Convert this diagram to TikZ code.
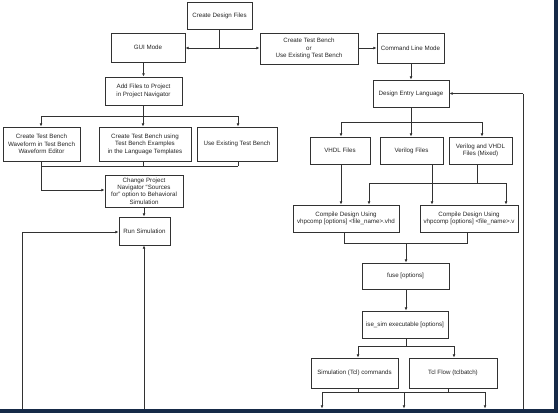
\documentclass[tikz,border=0pt]{standalone}
\usepackage{fontspec}
\setmainfont{Liberation Sans}
\usetikzlibrary{arrows.meta}
\definecolor{frame}{RGB}{22,42,72}
\definecolor{ln}{RGB}{50,50,50}
\begin{document}
\begin{tikzpicture}[x=1pt,y=-1pt,
  bx/.style={draw=ln,line width=0.8pt,rectangle,inner sep=0pt,align=center,
    font=\fontsize{6.2}{7.4}\selectfont,text=black!85},
  con/.style={draw=ln,line width=0.8pt},
  arr/.style={con,-{Latex[length=3.2pt,width=2.8pt]}}]
\useasboundingbox (0,0) rectangle (558,413);
\fill[white] (0,0) rectangle (558,413);
\fill[frame] (554,0) rectangle (558,413);
\fill[frame] (0,409) rectangle (558,413);

\node[bx,minimum width=65pt,minimum height=27pt] (cdf) at (219.5,15.5) {Create Design Files};
\node[bx,minimum width=74pt,minimum height=29pt] (gui) at (148,47.5) {GUI Mode};
\node[bx,minimum width=98pt,minimum height=31pt] (ctb) at (309,48.5) {Create Test Bench\\or\\Use Existing Test Bench};
\node[bx,minimum width=67pt,minimum height=30pt] (clm) at (410.5,48) {Command Line Mode};
\node[bx,minimum width=77pt,minimum height=28pt] (add) at (143.5,91) {Add Files to Project\\in Project Navigator};
\node[bx,minimum width=77pt,minimum height=34pt] (wave) at (41.5,144) {Create Test Bench\\Waveform in Test Bench\\Waveform Editor};
\node[bx,minimum width=92pt,minimum height=34pt] (tmpl) at (145,144) {Create Test Bench using\\Test Bench Examples\\in the Language Templates};
\node[bx,minimum width=80pt,minimum height=34pt] (use) at (237,144) {Use Existing Test Bench};
\node[bx,minimum width=78pt,minimum height=32pt] (chg) at (144,191) {Change Project\\Navigator “Sources\\for” option to Behavioral\\Simulation};
\node[bx,minimum width=51pt,minimum height=28pt] (run) at (144.5,231) {Run Simulation};
\node[bx,minimum width=76pt,minimum height=27pt] (del) at (411,93.5) {Design Entry Language};
\node[bx,minimum width=60pt,minimum height=27pt] (vhdl) at (340,150.5) {VHDL Files};
\node[bx,minimum width=63pt,minimum height=27pt] (ver) at (411.5,150.5) {Verilog Files};
\node[bx,minimum width=63pt,minimum height=27pt] (mix) at (480.5,150.5) {Verilog and VHDL\\Files (Mixed)};
\node[bx,minimum width=106pt,minimum height=27pt] (cmpa) at (346,218.5) {Compile Design Using\\vhpcomp [options] <file\_name>.vhd};
\node[bx,minimum width=98pt,minimum height=27pt] (cmpb) at (469,218.5) {Compile Design Using\\vhpcomp [options] <file\_name>.v};
\node[bx,minimum width=87pt,minimum height=26pt] (fuse) at (405.5,276) {fuse [options]};
\node[bx,minimum width=86pt,minimum height=27pt] (ise) at (405,324.5) {ise\_sim executable [options]};
\node[bx,minimum width=87pt,minimum height=30pt] (sim) at (354.5,373) {Simulation (Tcl) commands};
\node[bx,minimum width=88pt,minimum height=30pt] (tcl) at (453,373) {Tcl Flow (tclbatch)};

% top split
\coordinate (j1) at (219,48);
\draw[con] (cdf.south -| j1) -- (j1);
\draw[arr] (j1) -- (j1 -| gui.east);
\draw[arr] (j1) -- (j1 -| ctb.west);
\draw[arr] (ctb.east |- clm.west) -- (clm.west);
\draw[arr] (gui.south -| add.north) -- (add.north);

% add files branch
\coordinate (j2) at (143,116);
\coordinate (j2a) at (41,116);
\coordinate (j2b) at (238,116);
\draw[con] (add.south -| j2) -- (j2);
\draw[con] (j2a) -- (j2b);
\draw[arr] (j2a) -- (wave.north -| j2a);
\draw[arr] (j2) -- (tmpl.north -| j2);
\draw[arr] (j2b) -- (use.north -| j2b);

% join to change project
\coordinate (j3a) at (41,166);
\coordinate (j3b) at (238,166);
\coordinate (j3c) at (143,166);
\coordinate (j3d) at (41,190);
\draw[con] (wave.south -| j3a) -- (j3d);
\draw[arr] (j3d) -- (j3d -| chg.west);
\draw[con] (j3a) -- (j3b);
\draw[con] (tmpl.south -| j3c) -- (j3c);
\draw[con] (use.south -| j3b) -- (j3b);
\draw[arr] (chg.south) -- (run.north -| chg.south);

% loops into run simulation
\coordinate (la) at (22,409);
\coordinate (lb) at (22,232);
\draw[con] (la) -- (lb);
\draw[arr] (lb) -- (lb -| run.west);
\coordinate (lc) at (144,409);
\draw[arr] (lc) -- (lc |- run.south);

% command line side
\draw[arr] (clm.south -| del.north) -- (del.north);
\coordinate (fb) at (523,409);
\coordinate (fbt) at (523,93.5);
\draw[con] (fb) -- (fbt);
\draw[arr] (fbt) -- (del.east);

\coordinate (j4) at (411,122);
\coordinate (j4a) at (341,122);
\coordinate (j4b) at (482,122);
\draw[con] (del.south -| j4) -- (j4);
\draw[con] (j4a) -- (j4b);
\draw[arr] (j4a) -- (vhdl.north -| j4a);
\draw[arr] (j4) -- (ver.north -| j4);
\draw[arr] (j4b) -- (mix.north -| j4b);

\coordinate (k1) at (341,183);
\coordinate (k2) at (432,183);
\draw[arr] (vhdl.south -| k1) -- (cmpa.north -| k1);
\draw[arr] (ver.south -| k2) -- (cmpb.north -| k2);
\coordinate (k3) at (477,183);
\coordinate (k3a) at (369,183);
\coordinate (k3b) at (506,183);
\draw[con] (mix.south -| k3) -- (k3);
\draw[con] (k3a) -- (k3b);
\draw[arr] (k3a) -- (cmpa.north -| k3a);
\draw[arr] (k3b) -- (cmpb.north -| k3b);

\coordinate (m1) at (344,243);
\coordinate (m2) at (467,243);
\coordinate (m3) at (406,243);
\draw[con] (cmpa.south -| m1) -- (m1) -- (m2) -- (cmpb.south -| m2);
\draw[arr] (m3) -- (fuse.north -| m3);
\draw[arr] (fuse.south -| m3) -- (ise.north -| m3);

\coordinate (n1) at (406,346);
\coordinate (n1a) at (358,346);
\coordinate (n1b) at (454,346);
\draw[con] (ise.south -| n1) -- (n1);
\draw[con] (n1a) -- (n1b);
\draw[arr] (n1a) -- (sim.north -| n1a);
\draw[arr] (n1b) -- (tcl.north -| n1b);

\coordinate (p1) at (358,392);
\coordinate (p2) at (448,392);
\coordinate (pa) at (322,392);
\coordinate (pb) at (404,392);
\coordinate (pc) at (485,392);
\draw[con] (sim.south -| p1) -- (p1);
\draw[con] (tcl.south -| p2) -- (p2);
\draw[con] (pa) -- (pc);
\coordinate (qa) at (322,408.5);
\coordinate (qb) at (404,408.5);
\coordinate (qc) at (485,408.5);
\draw[arr] (pa) -- (qa);
\draw[arr] (pb) -- (qb);
\draw[arr] (pc) -- (qc);
\end{tikzpicture}
\end{document}
